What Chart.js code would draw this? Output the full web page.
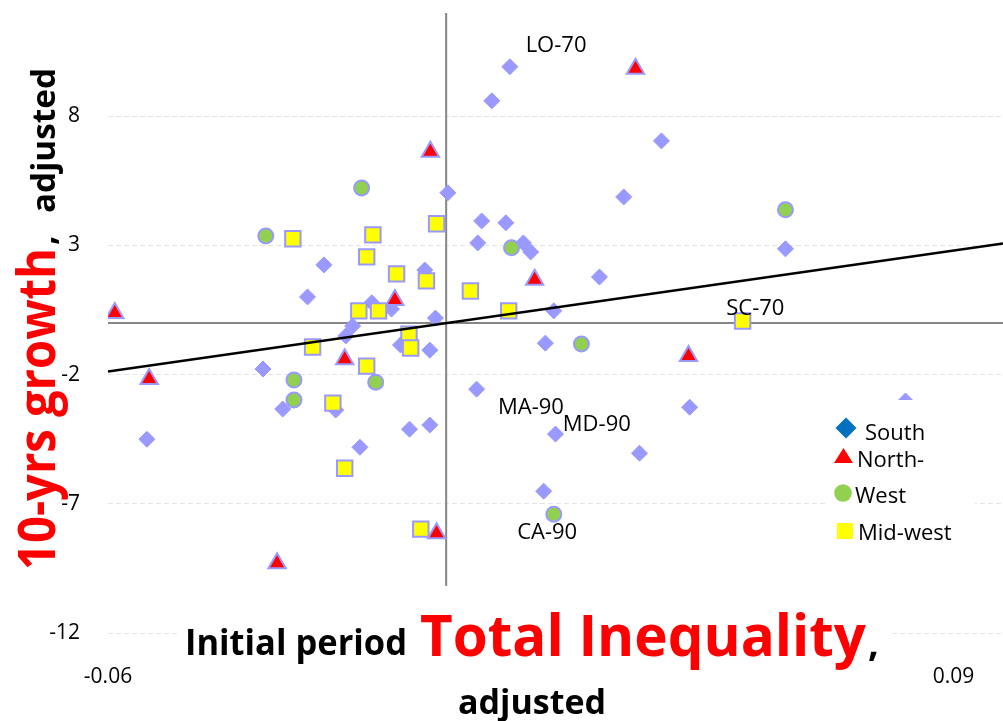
<!DOCTYPE html>
<html>
<head>
<meta charset="utf-8">
<title>Crecimiento vs desigualdad</title>
<script src="https://cdn.jsdelivr.net/npm/chart.js@4.4.1/dist/chart.umd.min.js"></script>
<style>
  html, body { margin: 0; padding: 0; background: #fff; }
  #contenedor { width: 1003px; height: 721px; }
</style>
</head>
<body>
<div id="contenedor"><canvas id="grafica" width="1003" height="721"></canvas></div>
<script>
// ════════════════════════════════════════
//  Datos
// ════════════════════════════════════════

const southX = [0.0113, 0.0081, 0.0382, 0.0315, 0.0003, 0.0063, 0.0106, 0.0056, 0.0137, 0.0150,
  0.0272, 0.0191, 0.0176, 0.0054, 0.0432, 0.0194, 0.0343, 0.0173, 0.0602, 0.0815,
  -0.0217, -0.0246, -0.0038, -0.0132, -0.0097, -0.0019, -0.0166, -0.0178, -0.0081, -0.0029,
  -0.0325, -0.0290, -0.0196, -0.0065, -0.0029, -0.0153, -0.0531];
const southY = [9.92, 8.60, 7.05, 4.88, 5.04, 3.95, 3.88, 3.10, 3.10, 2.75,
  1.78, 0.47, -0.78, -2.56, -3.26, -4.30, -5.04, -6.51, 2.87, -3.02,
  2.25, 1.01, 2.05, 0.78, 0.54, 0.19, -0.12, -0.50, -0.85, -1.05,
  -1.78, -3.33, -3.37, -4.11, -3.95, -4.81, -4.50];

const northX = [0.0336, -0.0028, 0.0157, -0.0091, -0.0588, 0.0430, -0.0180, -0.0527, -0.0017, -0.0300];
const northY = [9.84, 6.63, 1.67, 0.89, 0.39, -1.28, -1.40, -2.17, -8.14, -9.30];

const westX = [-0.0150, -0.0320, 0.0602, 0.0116, 0.0240, -0.0125, -0.0270, -0.0270, 0.0191];
const westY = [5.23, 3.37, 4.38, 2.91, -0.81, -2.29, -2.21, -2.98, -7.40];

const midwestX = [-0.0272, -0.0017, -0.0130, -0.0141, -0.0088, -0.0035, 0.0043, -0.0155, -0.0120,
  0.0111, -0.0237, -0.0066, -0.0063, -0.0141, -0.0201, -0.0180, -0.0045, 0.0526];
const midwestY = [3.26, 3.84, 3.41, 2.56, 1.90, 1.63, 1.24, 0.47, 0.47,
  0.47, -0.93, -0.43, -0.97, -1.67, -3.10, -5.62, -7.98, 0.08];

// línea de tendencia (extremos leídos)
const tendenciaX = [-0.06, 0.0988];
const tendenciaY = [-1.88, 3.08];

// etiquetas de puntos
const etiquetas = ["LO-70", "SC-70", "MA-90", "MD-90", "CA-90"];
const etiquetaX = [0.0141, 0.0497, 0.0092, 0.0207, 0.0126];
const etiquetaY = [10.50, 0.31, -3.53, -4.17, -8.37];

// ticks
const ticksX = [-0.06, 0.09];
const ticksY = [-12, -7, -2, 3, 8];

const series = ["South", "North-", "West", "Mid-west"];


// ════════════════════════════════════════
//  Helpers
// ════════════════════════════════════════

function aPuntos(xs, ys) {
  return xs.map((x, i) => ({ x: x, y: ys[i] }));
}

// dibuja texto ajustado a un ancho
function textoAjustado(ctx, texto, x, y, ancho) {
  const w = ctx.measureText(texto).width;
  ctx.save();
  ctx.translate(x, y);
  ctx.scale(ancho / w, 1);
  ctx.fillText(texto, 0, 0);
  ctx.restore();
}

const FUENTE = "'Open Sans', sans-serif";
const lila = "#9999FF";


// ═══ Ejes en cero ═══
const ejesCero = {
  id: "ejesCero",
  beforeDatasetsDraw(chart) {
    const { ctx, chartArea: a, scales } = chart;
    const x0 = scales.x.getPixelForValue(0);
    const y0 = scales.y.getPixelForValue(0);
    ctx.save();
    ctx.strokeStyle = "#868686";
    ctx.lineWidth = 2;
    ctx.beginPath();
    ctx.moveTo(x0, a.top);
    ctx.lineTo(x0, a.bottom);
    ctx.moveTo(a.left, y0);
    ctx.lineTo(a.right, y0);
    ctx.stroke();
    ctx.restore();
  }
};

// ═══ Etiquetas de puntos ═══
const etiquetasPuntos = {
  id: "etiquetasPuntos",
  afterDatasetsDraw(chart) {
    const { ctx, scales } = chart;
    ctx.save();
    ctx.font = "22px " + FUENTE;
    ctx.fillStyle = "#000";
    ctx.textAlign = "left";
    ctx.textBaseline = "alphabetic";
    etiquetas.forEach((t, i) => {
      ctx.fillText(t, scales.x.getPixelForValue(etiquetaX[i]), scales.y.getPixelForValue(etiquetaY[i]));
    });
    ctx.restore();
  }
};

// ═══ Títulos y leyenda ═══
const titulosLeyenda = {
  id: "titulosLeyenda",
  afterDraw(chart) {
    const ctx = chart.ctx;
    ctx.save();
    ctx.textAlign = "left";
    ctx.textBaseline = "alphabetic";

    // título eje X (caja blanca)
    ctx.fillStyle = "#fff";
    ctx.fillRect(180, 586, 710, 135);
    ctx.fillStyle = "#000";
    ctx.font = "bold 35px " + FUENTE;
    textoAjustado(ctx, "Initial period", 185, 655, 222);
    ctx.fillStyle = "#FF0000";
    ctx.font = "bold 58px " + FUENTE;
    textoAjustado(ctx, "Total Inequality", 420, 656, 446);
    ctx.fillStyle = "#000";
    ctx.font = "bold 38px " + FUENTE;
    ctx.fillText(",", 868, 656);
    ctx.font = "bold 34px " + FUENTE;
    ctx.textAlign = "center";
    ctx.fillText("adjusted", 532, 714);
    ctx.textAlign = "left";

    // título eje Y (rotado)
    ctx.save();
    ctx.translate(55, 570);
    ctx.rotate(-Math.PI / 2);
    ctx.fillStyle = "#FF0000";
    ctx.font = "bold 52px " + FUENTE;
    textoAjustado(ctx, "10-yrs growth", 0, 0, 322);
    ctx.fillStyle = "#000";
    ctx.font = "bold 33px " + FUENTE;
    ctx.fillText(",", 325, 0);
    textoAjustado(ctx, "adjusted", 357, 0, 145);
    ctx.restore();

    // leyenda
    ctx.fillStyle = "#fff";
    ctx.fillRect(828, 400, 147, 148);

    ctx.fillStyle = "#0070C0";
    ctx.beginPath();
    ctx.moveTo(846, 417.5); ctx.lineTo(856.5, 428); ctx.lineTo(846, 438.5); ctx.lineTo(835.5, 428);
    ctx.closePath(); ctx.fill();

    ctx.fillStyle = "#FF0000";
    ctx.beginPath();
    ctx.moveTo(843.5, 448); ctx.lineTo(853, 463); ctx.lineTo(834, 463);
    ctx.closePath(); ctx.fill();

    ctx.fillStyle = "#92D050";
    ctx.beginPath();
    ctx.arc(843, 493, 8.8, 0, Math.PI * 2);
    ctx.fill();

    ctx.fillStyle = "#FFFF00";
    ctx.fillRect(837, 523, 16, 16);

    ctx.fillStyle = "#000";
    ctx.font = "22px " + FUENTE;
    ctx.fillText(series[0], 865, 440);
    ctx.fillText(series[1], 857, 467);
    ctx.fillText(series[2], 855, 503);
    ctx.fillText(series[3], 858, 540);

    ctx.restore();
  }
};


// ════════════════════════════════════════
//  Gráfica
// ════════════════════════════════════════

function inicializarGrafica() {
  Chart.defaults.font.family = FUENTE;
  Chart.defaults.color = "#000";

  new Chart(document.getElementById("grafica"), {
    type: "scatter",
    data: {
      datasets: [
        {
          type: "line",
          label: "Tendencia",
          data: aPuntos(tendenciaX, tendenciaY),
          borderColor: "#000",
          borderWidth: 2.5,
          pointRadius: 0,
          fill: false,
          order: 0
        },
        {
          label: series[3],
          data: aPuntos(midwestX, midwestY),
          pointStyle: "rect",
          pointRadius: 10.9,
          backgroundColor: "#FFFF00",
          borderColor: lila,
          borderWidth: 2,
          order: 1
        },
        {
          label: series[2],
          data: aPuntos(westX, westY),
          pointStyle: "circle",
          pointRadius: 7.5,
          backgroundColor: "#92D050",
          borderColor: lila,
          borderWidth: 2,
          order: 2
        },
        {
          label: series[1],
          data: aPuntos(northX, northY),
          pointStyle: "triangle",
          pointRadius: 10,
          backgroundColor: "#FF0000",
          borderColor: lila,
          borderWidth: 2,
          order: 3
        },
        {
          label: series[0],
          data: aPuntos(southX, southY),
          pointStyle: "rectRot",
          pointRadius: 8,
          backgroundColor: lila,
          borderColor: lila,
          borderWidth: 1,
          order: 4
        }
      ]
    },
    options: {
      responsive: false,
      animation: false,
      events: [],
      layout: { autoPadding: false, padding: { top: 13, right: 0, bottom: 0, left: 0 } },
      plugins: {
        legend: { display: false },
        tooltip: { enabled: false }
      },
      scales: {
        x: {
          type: "linear",
          min: -0.06,
          max: 0.0988,
          afterBuildTicks: s => { s.ticks = ticksX.map(v => ({ value: v })); },
          afterFit: s => {
            s.height = 88;
            s.paddingLeft = 0;
            s.paddingRight = 0;
          },
          ticks: {
            padding: 23,
            font: { size: 21 },
            callback: v => String(v)
          },
          grid: { display: false },
          border: { display: false }
        },
        y: {
          min: -12,
          max: 12,
          afterBuildTicks: s => { s.ticks = ticksY.map(v => ({ value: v })); },
          afterFit: s => {
            s.width = 108;
            s.paddingTop = 0;
            s.paddingBottom = 0;
          },
          ticks: {
            padding: 28,
            font: { size: 21 },
            callback: v => String(v)
          },
          grid: { color: "#E4E4E4", lineWidth: 1, drawTicks: false },
          border: { display: false, dash: [5, 3] }
        }
      }
    },
    plugins: [ejesCero, etiquetasPuntos, titulosLeyenda]
  });
}

// Iniciar cuando las fuentes estén listas
if (document.fonts && document.fonts.load) {
  Promise.all([
    document.fonts.load("22px 'Open Sans'"),
    document.fonts.load("bold 22px 'Open Sans'")
  ]).then(inicializarGrafica, inicializarGrafica);
} else {
  inicializarGrafica();
}
</script>
</body>
</html>
